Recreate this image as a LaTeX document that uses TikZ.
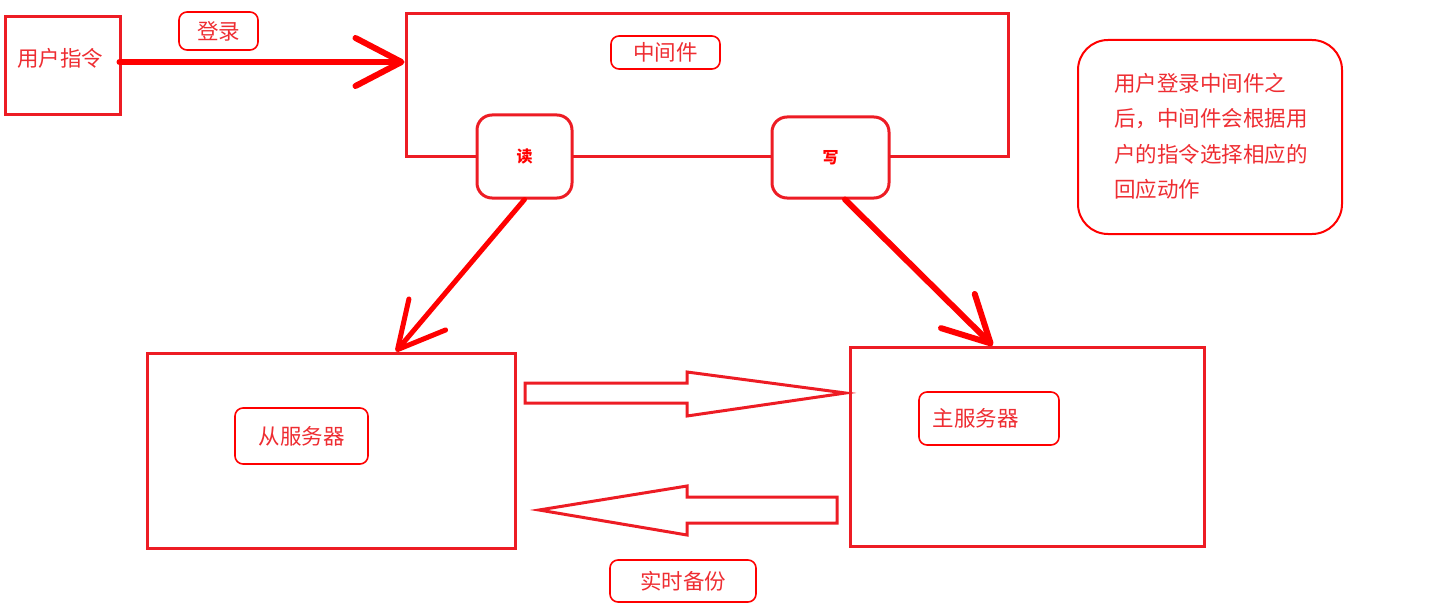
\documentclass[tikz,border=0pt]{standalone}
\usepackage{fontspec}
\newfontfamily\cjk{Noto Sans CJK SC}
\usetikzlibrary{arrows.meta,calc}
\definecolor{boxred}{RGB}{237,28,36}
\definecolor{txtred}{RGB}{238,45,50}
\begin{document}
\begin{tikzpicture}[x=1pt,y=-1pt,
  bigbox/.style={draw=boxred, line width=3pt, inner sep=0pt},
  tag/.style={draw=red, line width=1.6pt, rounded corners=8pt, inner sep=0pt},
  txt/.style={text=txtred, font=\cjk\fontsize{21.5}{25}\selectfont, inner sep=0pt},
  rwbox/.style={draw=boxred, line width=3pt, rounded corners=15pt, fill=white, text=red, font=\cjk\bfseries\fontsize{16}{18}\selectfont, inner sep=0pt},
  boldarrow/.style={draw=red, line width=6pt, line cap=round, -{Straight Barb[length=46pt,width=48pt,round]}},
  blockarrow/.style={draw=boxred, line width=3pt, line join=miter}
]
\useasboundingbox (0,0) rectangle (1434,615);
% user
\node[bigbox, minimum width=115, minimum height=98] (user) at (62.5,66) {};
\node[txt] (usertxt) at (60,58) {用户指令};
\node[tag, txt, minimum width=79, minimum height=38] (login) at (218.5,31) {登录};
% middleware
\node[bigbox, minimum width=602, minimum height=142] (mid) at (707,85) {};
\node[tag, txt, minimum width=109, minimum height=33] (midtag) at (665.5,52.5) {中间件};
\node[rwbox, minimum width=95, minimum height=83] (read) at (524.5,156.5) {读};
\node[rwbox, minimum width=117, minimum height=81] (write) at (830.5,157.5) {写};
% note
\node[draw=red, line width=2pt, rounded corners=30pt, minimum width=264, minimum height=194] (note) at (1210,137) {};
\node[txt, anchor=north west, align=left, font=\cjk\fontsize{21.5}{35.5}\selectfont] (notetxt) at (1114,73)
  {用户登录中间件之\\后，中间件会根据用\\户的指令选择相应的\\回应动作};
% servers
\node[bigbox, minimum width=368, minimum height=195] (slave) at (331,450.5) {};
\node[tag, txt, minimum width=133, minimum height=56] (slavetag) at (301.5,436) {从服务器};
\node[bigbox, minimum width=354, minimum height=199] (master) at (1027,446.5) {};
\node[tag, minimum width=140, minimum height=53] (mastertag) at (989,418.5) {};
\node[txt] (mastertxt) at (975.5,418) {主服务器};
\node[tag, txt, minimum width=146, minimum height=42] (backup) at (683,581) {实时备份};
% connectors
\draw[boldarrow] ($(user.east)+(-2,-4)$) coordinate (a1) -- (a1 -| mid.west);
\draw[boldarrow, line width=5pt] (read.south) -- ($(slave.north west)!0.675!(slave.north east)$);
\draw[boldarrow] ($(write.south)+(14.5,0)$) -- ($(master.north west)!0.404!(master.north east)$);
% block arrows
\draw[blockarrow] (525,383) -- (687,383) -- (687,372) -- ($(master.west |- 0,393)+(-3,0)$) -- (687,416) -- (687,403) -- (525,403) -- cycle;
\draw[blockarrow] (837,497) -- (687,497) -- (687,486) -- (539,510) -- (687,535) -- (687,523) -- (837,523) -- cycle;
\end{tikzpicture}
\end{document}
